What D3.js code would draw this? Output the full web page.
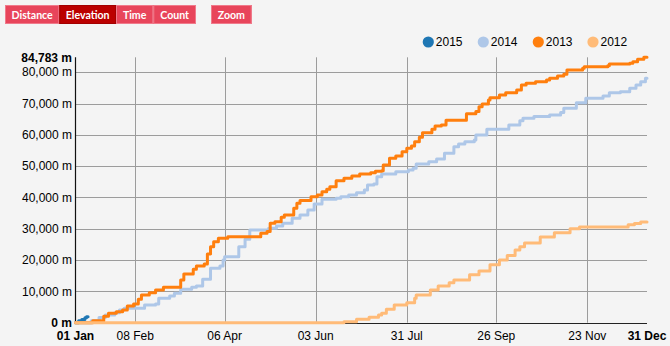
<!DOCTYPE html>
<html>
<head>
<meta charset="utf-8">
<script src="https://cdn.jsdelivr.net/npm/d3@7"></script>
<style>
  html, body { margin: 0; padding: 0; background: #f4f4f4; }
  svg { display: block; font-family: "Liberation Sans", Arial, sans-serif; }
</style>
</head>
<body>
<svg id="chart" width="670" height="346"></svg>
<script>
// Cumulative elevation gain per year: [day of year, metres climbed so far]
const years = ["2015", "2014", "2013", "2012"];
const colors = ["#1f77b4", "#aec7e8", "#ff7f0e", "#ffbb78"];

const elev2015 = [[0, 0], [2, 640], [4, 1020], [6, 1600], [7, 1920], [8, 1920]];

const elev2014 = [
  [0, 0], [10, 640], [15, 1700], [19, 2460], [25, 3200], [28, 4060], [31, 4600],
  [44, 5650], [51, 5970], [53, 7800], [60, 8530], [63, 9390], [67, 10670],
  [74, 11300], [77, 11720], [81, 13860], [86, 17380], [92, 18120], [94, 20030],
  [95, 21090], [104, 24280], [108, 26640], [111, 29620], [123, 30160],
  [128, 30900], [132, 31750], [138, 33350], [143, 34400], [148, 36010],
  [152, 37920], [157, 39420], [166, 39740], [169, 40260], [174, 40800],
  [179, 41530], [184, 42430], [186, 43990], [190, 44340], [192, 46650],
  [195, 47510], [204, 48240], [212, 48790], [215, 49330], [217, 50700],
  [225, 51440], [230, 52300], [235, 54120], [241, 56230], [244, 57100],
  [248, 57830], [254, 58370], [255, 59970], [262, 61790], [276, 63160],
  [283, 64540], [285, 65300], [292, 65840], [302, 66360], [309, 67110],
  [311, 68500], [319, 70290], [325, 71690], [336, 72430], [340, 73480],
  [347, 73800], [353, 74890], [357, 75940], [360, 77000], [363, 78080], [364, 78080]
];

const elev2013 = [
  [0, 0], [11, 640], [18, 2100], [21, 3000], [26, 3520], [30, 4060], [33, 5330],
  [37, 5970], [40, 7480], [42, 8850], [47, 9590], [51, 10450], [56, 11300],
  [67, 13640], [69, 15560], [75, 17060], [77, 18120], [82, 18750], [84, 21950],
  [86, 24280], [88, 25880], [91, 26960], [97, 27480], [118, 28600], [122, 29100],
  [124, 31750], [127, 32270], [131, 33670], [133, 34400], [139, 36550],
  [141, 38150], [143, 39000], [150, 40260], [154, 40800], [157, 41850],
  [160, 42620], [162, 43450], [166, 45370], [171, 46130], [176, 46870],
  [181, 47510], [188, 47920], [191, 48370], [195, 48560], [196, 50380],
  [200, 52520], [204, 53260], [208, 54630], [211, 55720], [214, 56450],
  [216, 57830], [219, 59230], [221, 60700], [227, 61790], [229, 62850],
  [233, 63130], [236, 64650], [249, 66770], [255, 67450], [257, 69010],
  [259, 69900], [263, 71150], [264, 71900], [270, 72750], [274, 73480],
  [281, 74350], [284, 75940], [287, 76480], [293, 77000], [300, 77540],
  [302, 78080], [307, 78820], [311, 79360], [313, 80740], [323, 81280],
  [324, 81790], [339, 82110], [340, 82650], [353, 82870], [355, 83400],
  [358, 84150], [362, 84783], [364, 84783]
];

const elev2012 = [
  [0, 0], [171, 320], [179, 1090], [187, 1720], [193, 2460], [195, 3000],
  [198, 4280], [203, 5650], [211, 6390], [216, 7800], [217, 8850],
  [226, 10450], [231, 11720], [238, 12780], [241, 13640], [251, 15300],
  [257, 16500], [264, 18500], [270, 20000], [275, 21500], [280, 23200],
  [283, 24300], [286, 25500], [296, 27400], [305, 28700], [315, 30000],
  [321, 30600], [352, 31300], [356, 31700], [360, 32200], [364, 32200]
];

const seriesValues = [elev2015, elev2014, elev2013, elev2012];

// Axis ticks
const xTickDates = ["2013-01-01", "2013-02-08", "2013-04-06", "2013-06-03",
                    "2013-07-31", "2013-09-26", "2013-11-23", "2013-12-31"];
const yTickValues = [0, 10000, 20000, 30000, 40000, 50000, 60000, 70000, 80000];

// Metric buttons
const buttonLabels = ["Distance", "Elevation", "Time", "Count"];
const activeButton = "Elevation";

// ---------------------------------------------------------------------------
const svg = d3.select("#chart");
const parse = d3.utcParse("%Y-%m-%d");
const yearStart = parse("2013-01-01");
const yearEnd = parse("2013-12-31");
const dayDate = d => d3.utcDay.offset(yearStart, d);

const maxValue = d3.max(seriesValues, s => d3.max(s, p => p[1]));

const x = d3.scaleUtc().domain([yearStart, yearEnd]).range([75.5, 647]);
const y = d3.scaleLinear().domain([0, maxValue]).range([322.7, 57.3]);

svg.append("rect").attr("width", 670).attr("height", 346).attr("fill", "#f4f4f4");

// Buttons
const btnWidths = [54.3, 56.7, 37.3, 42.7];
let bx = 5;
const btns = svg.append("g");
buttonLabels.forEach((label, i) => {
  const w = btnWidths[i];
  const active = label === activeButton;
  const g = btns.append("g").attr("transform", `translate(${bx},5)`);
  g.append("rect").attr("width", w).attr("height", 19)
    .attr("fill", active ? "#bb0000" : "#e8455b");
  g.append("rect").attr("x", 0.5).attr("y", 0.5).attr("width", w - 1).attr("height", 18)
    .attr("fill", "none").attr("stroke", active ? "#a30000" : "#f07a8b").attr("stroke-width", 1);
  g.append("text").attr("x", w / 2).attr("y", 14.3).attr("text-anchor", "middle")
    .attr("fill", "#fff").attr("font-size", "10.6px").attr("font-weight", "bold")
    .attr("font-family", "Lato, 'Liberation Sans', sans-serif")
    .text(label);
  bx += w;
});
{
  const g = btns.append("g").attr("transform", "translate(211,5)");
  g.append("rect").attr("width", 40.7).attr("height", 19).attr("fill", "#e8455b");
  g.append("rect").attr("x", 0.5).attr("y", 0.5).attr("width", 39.7).attr("height", 18)
    .attr("fill", "none").attr("stroke", "#f07a8b");
  g.append("text").attr("x", 20.35).attr("y", 14.3).attr("text-anchor", "middle")
    .attr("fill", "#fff").attr("font-size", "10.6px").attr("font-weight", "bold")
    .attr("font-family", "Lato, 'Liberation Sans', sans-serif")
    .text("Zoom");
}

// Legend
const legendX = [428.3, 483.3, 538.3, 593];
const legend = svg.append("g");
years.forEach((yr, i) => {
  const g = legend.append("g").attr("transform", `translate(${legendX[i]},42)`);
  g.append("circle").attr("r", 5.6).attr("fill", colors[i]);
  g.append("text").attr("x", 7.5).attr("y", 4.3).attr("font-size", "12px")
    .attr("fill", "#000").text(yr);
});

// Grid
const xTicks = xTickDates.map(parse);
const grid = svg.append("g").attr("stroke", "#9c9c9c").attr("stroke-width", 1);
grid.selectAll("line.v").data(xTicks.slice(1, -1)).join("line")
  .attr("x1", d => Math.round(x(d)) + 0.5).attr("x2", d => Math.round(x(d)) + 0.5)
  .attr("y1", y(maxValue)).attr("y2", y(0));
grid.selectAll("line.h").data(yTickValues.slice(1)).join("line")
  .attr("x1", x(yearStart)).attr("x2", x(yearEnd))
  .attr("y1", d => Math.round(y(d)) + 0.5).attr("y2", d => Math.round(y(d)) + 0.5);

// Axis lines
svg.append("line").attr("x1", 75.5).attr("x2", 75.5).attr("y1", y(maxValue)).attr("y2", y(0) + 0.5)
  .attr("stroke", "#111").attr("stroke-width", 1.2);
svg.append("line").attr("x1", 75.5).attr("x2", x(yearEnd)).attr("y1", 323.5).attr("y2", 323.5)
  .attr("stroke", "#222").attr("stroke-width", 1.2);

// Y axis labels
const fmt = d3.format(",");
const yLabels = yTickValues.concat([maxValue]);
svg.append("g").selectAll("text").data(yLabels).join("text")
  .attr("x", 72).attr("y", d => y(d)).attr("dy", "0.35em")
  .attr("text-anchor", "end").attr("font-size", "12px")
  .attr("font-weight", d => (d === 0 || d === maxValue) ? "bold" : "normal")
  .attr("fill", "#000")
  .text(d => fmt(d) + " m");

// X axis labels
const xfmt = d3.utcFormat("%d %b");
svg.append("g").selectAll("text").data(xTicks).join("text")
  .attr("x", d => x(d)).attr("y", 340.3)
  .attr("text-anchor", "middle").attr("font-size", "12px")
  .attr("font-weight", (d, i) => (i === 0 || i === xTicks.length - 1) ? "bold" : "normal")
  .attr("fill", "#000")
  .text(d => xfmt(d));

// Lines (first series at the bottom)
const line = d3.line()
  .x(p => x(dayDate(p[0])))
  .y(p => y(p[1]))
  .curve(d3.curveStepAfter);

svg.append("g").selectAll("path").data(seriesValues).join("path")
  .attr("d", line)
  .attr("fill", "none")
  .attr("stroke", (d, i) => colors[i])
  .attr("stroke-width", 3)
  .attr("stroke-linejoin", "round")
  .attr("stroke-linecap", "round");
</script>
</body>
</html>
